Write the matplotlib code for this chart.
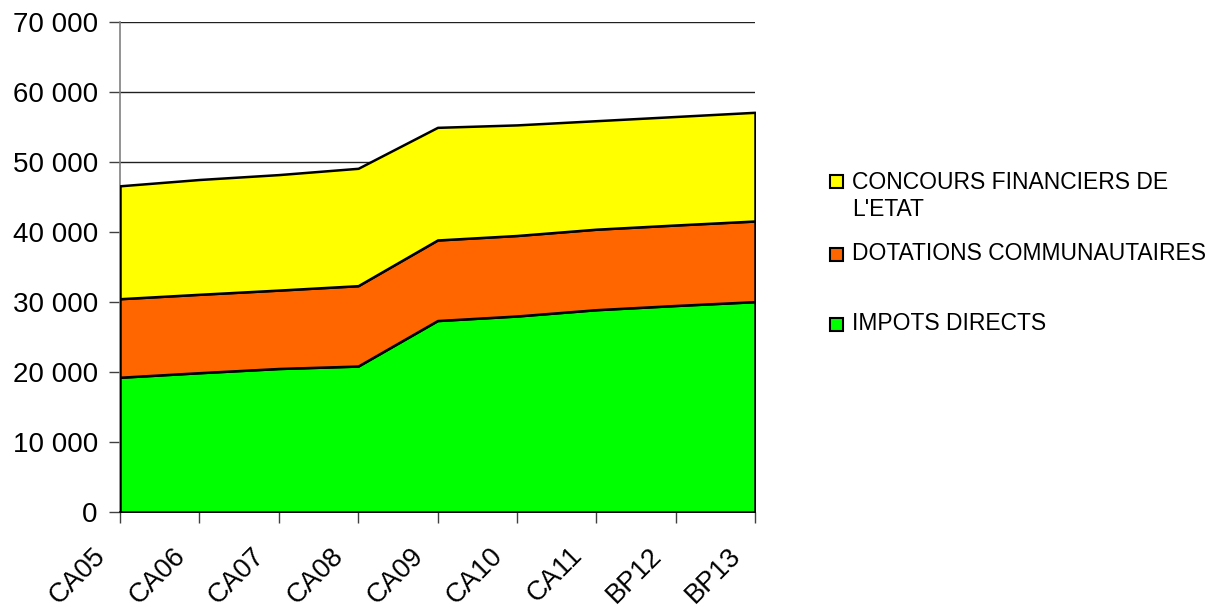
import matplotlib
matplotlib.use("Agg")
import matplotlib.pyplot as plt
from matplotlib.patches import Rectangle
from matplotlib.ticker import FuncFormatter
from matplotlib.transforms import ScaledTranslation
import numpy as np

categories = ["CA05", "CA06", "CA07", "CA08", "CA09", "CA10", "CA11", "BP12", "BP13"]
impots_directs = [19250, 19900, 20500, 20850, 27350, 28000, 28900, 29500, 30050]
dotations_communautaires = [11220, 11200, 11200, 11480, 11510, 11500, 11500, 11500, 11520]
concours_etat = [16130, 16400, 16500, 16770, 16090, 15800, 15500, 15500, 15530]

series_labels = ["IMPOTS DIRECTS", "DOTATIONS COMMUNAUTAIRES", "CONCOURS FINANCIERS DE\nL'ETAT"]
series_colors = ["#00FF00", "#FF6600", "#FFFF00"]

plt.rcParams['font.family'] = ['Liberation Sans', 'DejaVu Sans']

fig = plt.figure(figsize=(12.21, 6.10), dpi=100)
ax = fig.add_axes([120/1221, 1-512/610, (755-120)/1221, (512-22)/610])

x = np.arange(len(categories))
ax.stackplot(x, impots_directs, dotations_communautaires, concours_etat,
             colors=series_colors, edgecolor="black", linewidth=1.8, zorder=3)

ax.set_xlim(0, len(categories)-1)
ax.set_ylim(0, 70000)
ax.set_yticks(np.arange(0, 70001, 10000))
ax.yaxis.set_major_formatter(FuncFormatter(lambda v, p: f"{int(v):,}".replace(",", " ")))
ax.grid(axis="y", color="#202020", linewidth=1.0, zorder=0)
ax.set_axisbelow(True)

ax.set_xticks(x)
ax.set_xticklabels(categories, rotation=45, ha="right", fontsize=19.5)
ax.tick_params(axis="y", labelsize=20, length=8, width=1, color="#404040", pad=8, direction="out")
ax.tick_params(axis="x", length=8, width=1, color="#404040", pad=14, direction="out")
offset = ScaledTranslation(-9/100, 0, fig.dpi_scale_trans)
for lbl in ax.get_xticklabels():
    lbl.set_transform(lbl.get_transform() + offset)

for s in ["top", "right"]:
    ax.spines[s].set_visible(False)
ax.spines["left"].set_color("#808080")
ax.spines["left"].set_linewidth(1.2)
ax.spines["bottom"].set_color("black")
ax.spines["bottom"].set_linewidth(1.2)

# legend (drawn manually to match the reference layout)
leg_rows = [(2, [182, 210]), (1, [254]), (0, [324])]
for idx, ypixs in leg_rows:
    fig.add_artist(Rectangle((830/1221, 1-(ypixs[0]+6.5)/610), 13/1221, 13/610,
                             transform=fig.transFigure, facecolor=series_colors[idx],
                             edgecolor="black", linewidth=1.5))
    for line, ypix in zip(series_labels[idx].split("\n"), ypixs):
        fig.text(852/1221, 1-ypix/610, line, fontsize=16.5, va="center", ha="left")

fig.savefig("out.png", dpi=100)
